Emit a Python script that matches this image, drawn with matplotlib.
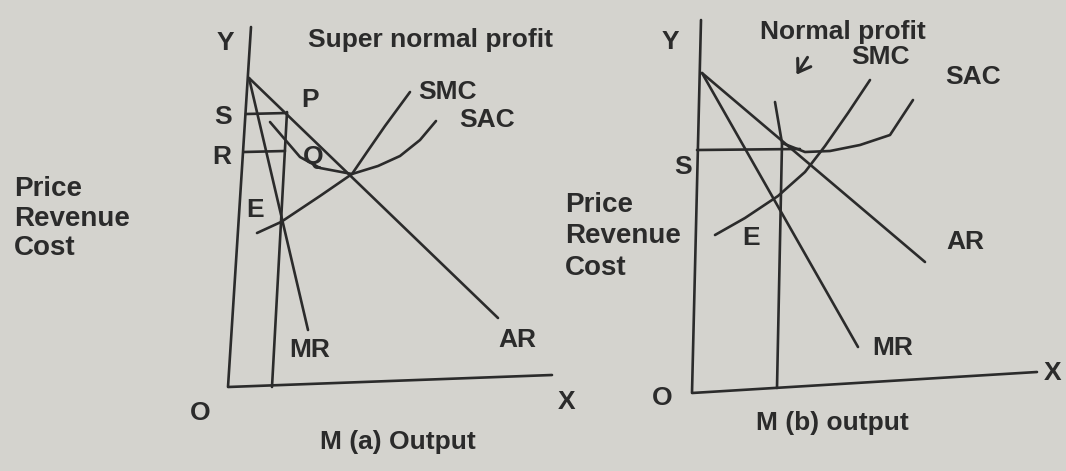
import matplotlib
matplotlib.use("Agg")
import matplotlib.pyplot as plt

# ---- panel (a): super normal profit ----
axes_a_x = [251, 228, 552]
axes_a_y = [27, 387, 375]
ar_a_x = [249, 498]
ar_a_y = [78, 318]
mr_a_x = [249, 308]
mr_a_y = [78, 330]
s_line_a_x = [246, 287]
s_line_a_y = [114, 113]
r_line_a_x = [244, 285]
r_line_a_y = [152, 151]
m_line_a_x = [287, 272]
m_line_a_y = [112, 387]
smc_a_x = [257, 281, 320, 352, 367, 385, 410]
smc_a_y = [233, 222, 196, 174, 152, 126, 92]
sac_a_x = [270, 300, 320, 352, 378, 400, 420, 436]
sac_a_y = [122, 157, 168, 174, 166, 156, 140, 121]

# ---- panel (b): normal profit ----
axes_b_x = [701, 692, 1037]
axes_b_y = [20, 393, 372]
ar_b_x = [702, 925]
ar_b_y = [73, 262]
mr_b_x = [702, 858]
mr_b_y = [73, 347]
s_line_b_x = [697, 800]
s_line_b_y = [150, 149]
m_line_b_x = [782, 777]
m_line_b_y = [143, 388]
smc_b_x = [715, 745, 778, 805, 825, 848, 870]
smc_b_y = [235, 218, 196, 172, 146, 113, 80]
sac_b_x = [775, 782, 805, 830, 860, 890, 913]
sac_b_y = [102, 143, 152, 151, 145, 135, 100]
arrow_b = [(809, 55), (795, 77)]

# label text and where it sits
labels = [
    ("Y", 225, 43), ("S", 223, 117), ("R", 222, 157), ("P", 310, 100),
    ("Q", 313, 157), ("E", 255, 210), ("SMC", 447, 92), ("SAC", 487, 120),
    ("MR", 310, 350), ("AR", 517, 340), ("O", 200, 413), ("X", 567, 402),
    ("Super normal profit", 430, 40), ("M (a) Output", 398, 442),
    ("Y", 670, 42), ("S", 683, 167), ("E", 751, 238),
    ("Normal profit", 843, 32), ("SMC", 880, 57), ("SAC", 973, 77),
    ("AR", 965, 242), ("MR", 893, 348), ("X", 1053, 373), ("O", 662, 398),
    ("M (b) output", 832, 423),
]
axis_title = ["Price", "Revenue", "Cost"]
axis_title_a = (14, [189, 219, 248])
axis_title_b = (565, [205, 236, 268])

ink = "#2b2b2b"
paper = "#d4d3ce"

fig = plt.figure(figsize=(10.66, 4.71), dpi=100, facecolor=paper)
ax = fig.add_axes([0, 0, 1, 1])
ax.set_xlim(0, 1066)
ax.set_ylim(471, 0)
ax.axis("off")

lines = [
    (axes_a_x, axes_a_y), (ar_a_x, ar_a_y), (mr_a_x, mr_a_y),
    (s_line_a_x, s_line_a_y), (r_line_a_x, r_line_a_y),
    (m_line_a_x, m_line_a_y), (smc_a_x, smc_a_y), (sac_a_x, sac_a_y),
    (axes_b_x, axes_b_y), (ar_b_x, ar_b_y), (mr_b_x, mr_b_y),
    (s_line_b_x, s_line_b_y), (m_line_b_x, m_line_b_y),
    (smc_b_x, smc_b_y), (sac_b_x, sac_b_y),
]
for xs, ys in lines:
    ax.plot(xs, ys, color=ink, lw=1.9, solid_capstyle="round",
            solid_joinstyle="round")

# little arrow under "Normal profit"
ax.annotate("", xy=arrow_b[1], xytext=arrow_b[0],
            arrowprops=dict(arrowstyle="->,head_length=0.6,head_width=0.4",
                            color=ink, lw=2.2, mutation_scale=14))

font = dict(family="Liberation Sans", fontweight="bold", color=ink)
for txt, x, y in labels:
    ax.text(x, y, txt, fontsize=19, ha="center", va="center", **font)

for x0, ys in (axis_title_a, axis_title_b):
    for txt, y in zip(axis_title, ys):
        ax.text(x0, y, txt, fontsize=20, ha="left", va="center", **font)

plt.savefig("out.png", dpi=100, facecolor=paper)
